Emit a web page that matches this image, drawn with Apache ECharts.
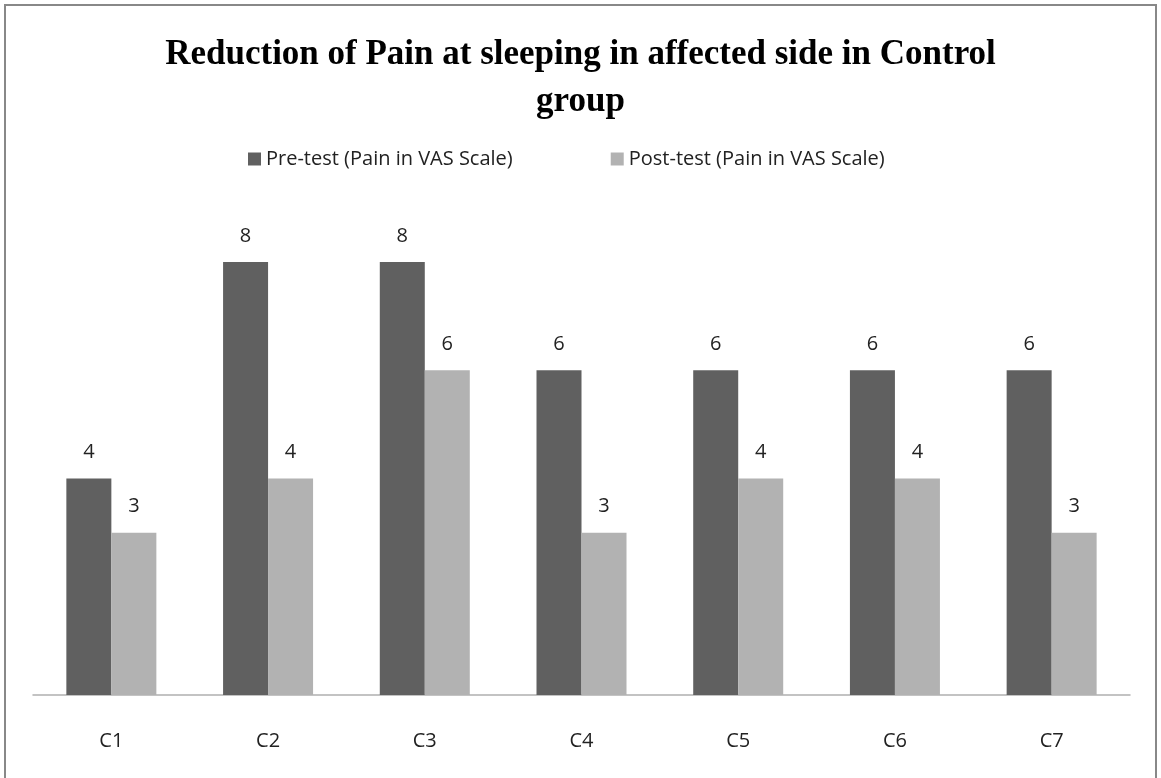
<!DOCTYPE html>
<html>
<head>
<meta charset="utf-8">
<style>
  html, body { margin: 0; padding: 0; background: #fff; }
  #chart { width: 1161px; height: 778px; }
</style>
<script src="https://cdn.jsdelivr.net/npm/echarts@6/dist/echarts.min.js"></script>
</head>
<body>
<div id="chart"></div>
<script>
  // data
  var categories = ['C1', 'C2', 'C3', 'C4', 'C5', 'C6', 'C7'];
  var preTest = [4, 8, 8, 6, 6, 6, 6];
  var postTest = [3, 4, 6, 3, 4, 4, 3];
  var seriesNames = ['Pre-test (Pain in VAS Scale)', 'Post-test (Pain in VAS Scale)'];

  var myChart = echarts.init(document.getElementById('chart'));

  var labelStyle = {
    show: true,
    position: 'top',
    distance: 16,
    color: '#222',
    fontFamily: 'Open Sans',
    fontSize: 20
  };

  myChart.setOption({
    animation: false,
    title: {
      text: 'Reduction of Pain at sleeping in affected side in Control\ngroup',
      left: 'center',
      top: 26,
      textStyle: {
        fontFamily: 'Liberation Serif',
        fontWeight: 'bold',
        fontSize: 35,
        lineHeight: 47,
        color: '#000'
      }
    },
    legend: {
      top: 144,
      left: 243,
      itemWidth: 13,
      itemHeight: 13,
      itemGap: 98,
      icon: 'rect',
      textStyle: {
        fontFamily: 'Open Sans',
        fontSize: 20,
        color: '#222'
      },
      data: seriesNames
    },
    grid: {
      left: 33,
      right: 31,
      top: 208,
      bottom: 83
    },
    xAxis: {
      type: 'category',
      data: categories,
      axisLine: { lineStyle: { color: '#b0b0b0', width: 1.5 } },
      axisTick: { show: false },
      axisLabel: {
        margin: 36,
        color: '#222',
        fontFamily: 'Open Sans',
        fontSize: 20
      }
    },
    yAxis: {
      type: 'value',
      min: 0,
      max: 9,
      show: false,
      splitLine: { show: false }
    },
    graphic: [{
      type: 'rect',
      shape: { x: 5, y: 5, width: 1151, height: 800 },
      style: { fill: 'none', stroke: '#888', lineWidth: 2 }
    }],
    series: [
      {
        name: seriesNames[0],
        type: 'bar',
        barWidth: 45,
        barGap: '0%',
        itemStyle: { color: '#606060' },
        label: labelStyle,
        data: preTest
      },
      {
        name: seriesNames[1],
        type: 'bar',
        barWidth: 45,
        barGap: '0%',
        itemStyle: { color: '#b2b2b2' },
        label: labelStyle,
        data: postTest
      }
    ]
  });
</script>
</body>
</html>
